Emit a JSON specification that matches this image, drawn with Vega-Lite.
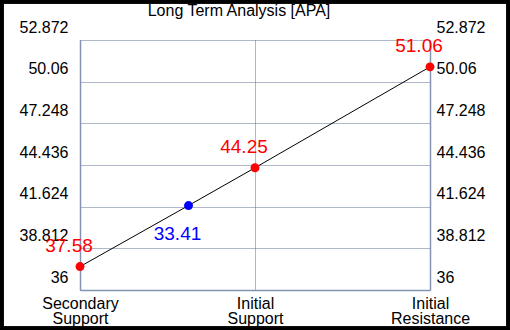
{
  "$schema": "https://vega.github.io/schema/vega-lite/v6.json",
  "width": 350,
  "height": 250,
  "autosize": {"type": "none"},
  "padding": {"left": 80, "top": 40, "right": 80, "bottom": 40},
  "background": "white",
  "title": {"text": "Long Term Analysis [APA]", "fontSize": 16, "font": "Liberation Sans", "fontWeight": "normal", "color": "black", "anchor": "middle", "dx": -16, "offset": -35, "baseline": "alphabetic"},
  "config": {
    "view": {"stroke": null},
    "font": "Liberation Sans",
    "axis": {
      "labelFont": "Liberation Sans",
      "labelFontSize": 16,
      "labelColor": "black",
      "domainColor": "#8392b0",
      "domainWidth": 1.5,
      "gridColor": "#5f6f92",
      "gridDash": [1, 1],
      "gridWidth": 1,
      "gridOpacity": 1,
      "ticks": false,
      "title": null,
      "labelOverlap": false,
      "labelBound": false,
      "labelFlush": false
    }
  },
  "data": {
    "values": [
      {"level": "Secondary Support", "pos": 0, "value": 37.58, "label": "37.58", "kind": "level"},
      {"level": "Current", "pos": 0.62, "value": 41.7, "label": "33.41", "kind": "current"},
      {"level": "Initial Support", "pos": 1, "value": 44.25, "label": "44.25", "kind": "level"},
      {"level": "Initial Resistance", "pos": 2, "value": 51.06, "label": "51.06", "kind": "level"}
    ]
  },
  "resolve": {"axis": {"y": "independent"}},
  "layer": [
    {
      "mark": {"type": "line", "color": "black", "strokeWidth": 1},
      "encoding": {
        "x": {"field": "pos", "type": "quantitative", "scale": {"domain": [0, 2], "nice": false, "zero": false},
              "axis": {"values": [0, 1, 2], "grid": true, "labelPadding": 5, "labelLineHeight": 15,
                       "labelExpr": "datum.value == 0 ? ['Secondary','Support'] : datum.value == 1 ? ['Initial','Support'] : ['Initial','Resistance']"}},
        "y": {"field": "value", "type": "quantitative", "scale": {"domain": [36, 52.872], "nice": false, "zero": false},
              "axis": {"orient": "left", "values": [36, 38.812, 41.624, 44.436, 47.248, 50.06, 52.872], "format": ".3~f", "grid": true, "labelPadding": 12, "labelOffset": -13}}
      }
    },
    {
      "mark": {"type": "circle", "size": 80, "opacity": 1},
      "encoding": {
        "x": {"field": "pos", "type": "quantitative"},
        "y": {"field": "value", "type": "quantitative",
              "axis": {"orient": "right", "values": [36, 38.812, 41.624, 44.436, 47.248, 50.06, 52.872], "format": ".3~f", "grid": false, "labelPadding": 6, "labelOffset": -13}},
        "color": {"field": "kind", "type": "nominal", "scale": {"domain": ["level", "current"], "range": ["#ff0000", "#0000ff"]}, "legend": null}
      }
    },
    {
      "transform": [{"filter": "datum.kind == 'level'"}],
      "mark": {"type": "text", "font": "Liberation Sans", "fontSize": 19, "dx": -11, "dy": -15, "baseline": "alphabetic", "align": "center", "color": "#ff0000"},
      "encoding": {
        "x": {"field": "pos", "type": "quantitative"},
        "y": {"field": "value", "type": "quantitative", "axis": null},
        "text": {"field": "label"}
      }
    },
    {
      "transform": [{"filter": "datum.kind == 'current'"}],
      "mark": {"type": "text", "font": "Liberation Sans", "fontSize": 19, "dx": -11, "dy": 34, "baseline": "alphabetic", "align": "center", "color": "#0000ff"},
      "encoding": {
        "x": {"field": "pos", "type": "quantitative"},
        "y": {"field": "value", "type": "quantitative", "axis": null},
        "text": {"field": "label"}
      }
    },
    {
      "mark": {"type": "rect", "fill": null, "stroke": "black", "strokeWidth": 7, "clip": false},
      "encoding": {
        "x": {"datum": -0.45714},
        "x2": {"datum": 2.45714},
        "y": {"datum": 33.30048, "axis": null},
        "y2": {"datum": 55.57152}
      }
    }
  ]
}
